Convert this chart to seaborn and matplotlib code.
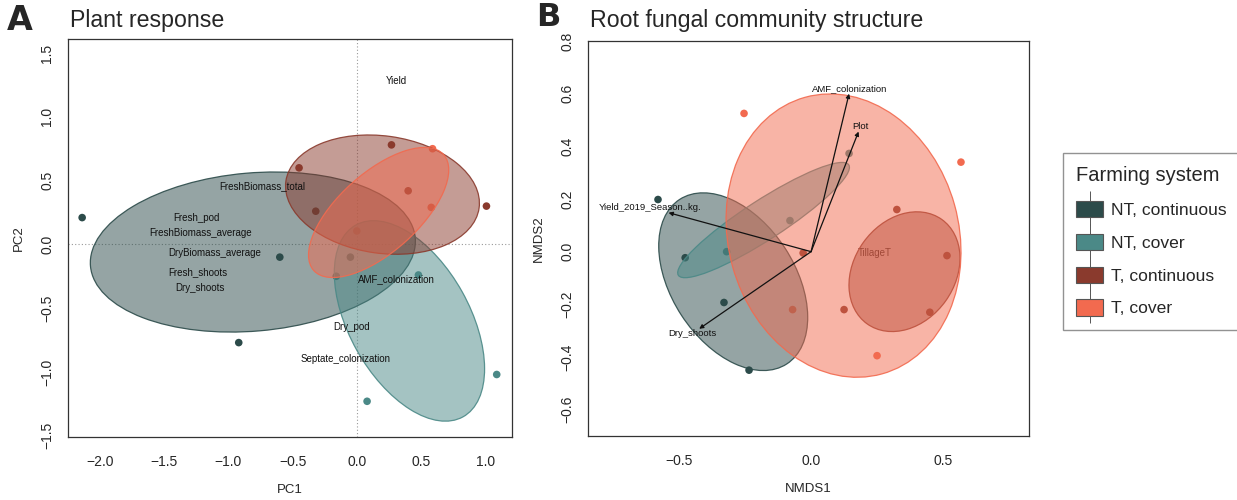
import numpy as np
import pandas as pd
import matplotlib
matplotlib.use("Agg")
import matplotlib.pyplot as plt
from matplotlib.patches import Ellipse, Patch
from matplotlib.lines import Line2D
import seaborn as sns

# ---------------- data ----------------
groups = ["NT, continuous", "NT, cover", "T, continuous", "T, cover"]
colors = ["#2c4b4a", "#4b8987", "#8a3a2d", "#f26a4f"]

# Panel A: PCA scores
pca_pc1 = [-2.14, -0.60, -0.92, -0.05,
           1.09, 0.08, 0.48, -0.16,
           -0.45, 0.27, 0.40, 1.01, -0.32,
           0.59, 0.58, 0.00]
pca_pc2 = [0.21, -0.10, -0.77, -0.10,
           -1.02, -1.23, -0.24, -0.25,
           0.60, 0.78, 0.42, 0.30, 0.26,
           0.75, 0.29, 0.105]
pca_group = (["NT, continuous"] * 4 + ["NT, cover"] * 4 +
             ["T, continuous"] * 5 + ["T, cover"] * 3)

# Panel A ellipses (centre x, centre y, width, height, angle) per group
pca_ell_cx = [-0.81, 0.41, 0.20, 0.17]
pca_ell_cy = [-0.06, -0.60, 0.39, 0.25]
pca_ell_w = [2.54, 1.72, 1.52, 1.36]
pca_ell_h = [1.24, 0.94, 0.92, 0.62]
pca_ell_ang = [5, -61, -8, 42]

# Panel A variable labels
pca_var_names = ["Yield", "FreshBiomass_total", "Fresh_pod", "FreshBiomass_average",
                 "DryBiomass_average", "Fresh_shoots", "Dry_shoots",
                 "AMF_colonization", "Dry_pod", "Septate_colonization"]
pca_var_x = [0.31, -0.74, -1.25, -1.22, -1.11, -1.24, -1.22, 0.31, -0.04, -0.09]
pca_var_y = [1.28, 0.46, 0.21, 0.09, -0.07, -0.22, -0.34, -0.27, -0.65, -0.90]

# Panel B: NMDS scores
nmds1 = [-0.58, -0.33, -0.235, -0.477,
         -0.32, -0.08, 0.144,
         0.325, 0.125, 0.515, 0.45, -0.03,
         -0.254, 0.568, -0.07, 0.25]
nmds2 = [0.198, -0.193, -0.45, -0.023,
         0.0, 0.118, 0.373,
         0.16, -0.22, -0.015, -0.23, -0.005,
         0.525, 0.34, -0.22, -0.395]
nmds_group = (["NT, continuous"] * 4 + ["NT, cover"] * 3 +
              ["T, continuous"] * 5 + ["T, cover"] * 4)

# Panel B ellipses
nmds_ell_cx = [-0.295, -0.18, 0.354, 0.123]
nmds_ell_cy = [-0.114, 0.12, -0.076, 0.061]
nmds_ell_w = [0.745, 0.77, 0.487, 1.09]
nmds_ell_h = [0.468, 0.15, 0.383, 0.873]
nmds_ell_ang = [-57, 33, 54.6, -74.5]

# Panel B environmental vectors
env_names = ["AMF_colonization", "Plot", "Yield_2019_Season..kg.", "Dry_shoots"]
env_x = [0.144, 0.18, -0.54, -0.424]
env_y = [0.60, 0.456, 0.148, -0.293]
env_lab_x = [0.148, 0.186, -0.61, -0.45]
env_lab_y = [0.62, 0.475, 0.167, -0.31]
factor_name = ["TillageT"]
factor_x = [0.24]
factor_y = [-0.004]

# ---------------- style ----------------
sns.set_style("white")
plt.rcParams["font.family"] = ["Liberation Sans", "DejaVu Sans"]

fig = plt.figure(figsize=(12.37, 5.0), dpi=100)
axA = fig.add_axes([0.055, 0.126, 0.359, 0.796])
axB = fig.add_axes([0.4754, 0.128, 0.3565, 0.790])

pal = dict(zip(groups, colors))


def fmt(v):
    return f"{v:.1f}".replace("-", "\u2212")


def style_axes(ax, xt, yt, xl, yl):
    ax.set_xlim(*xl)
    ax.set_ylim(*yl)
    ax.set_xticks(xt)
    ax.set_xticklabels([fmt(v) for v in xt])
    ax.set_yticks(yt)
    ax.set_yticklabels([fmt(v) for v in yt], rotation=90, va="center")
    ax.tick_params(axis="both", direction="out", length=6, width=0.8,
                   color="#333333", labelsize=10)
    ax.tick_params(axis="x", pad=7)
    ax.tick_params(axis="y", pad=4)
    for s in ax.spines.values():
        s.set_color("#333333")
        s.set_linewidth(0.9)


def add_ellipses(ax, cx, cy, w, h, ang):
    for i, g in enumerate(groups):
        c = pal[g]
        e = Ellipse((cx[i], cy[i]), w[i], h[i], angle=ang[i],
                    facecolor=c, alpha=0.5, edgecolor="none", zorder=3)
        ax.add_patch(e)
        e2 = Ellipse((cx[i], cy[i]), w[i], h[i], angle=ang[i],
                     facecolor="none", edgecolor=c, lw=0.9, alpha=0.9, zorder=3)
        ax.add_patch(e2)


# ---------------- Panel A ----------------
dfA = pd.DataFrame({"PC1": pca_pc1, "PC2": pca_pc2, "group": pca_group})
sns.scatterplot(data=dfA, x="PC1", y="PC2", hue="group", palette=pal,
                hue_order=groups, s=30, edgecolor="none", legend=False,
                ax=axA, zorder=2)
axA.axhline(0, color="#999999", lw=0.8, ls=(0, (1, 2)), zorder=1)
axA.axvline(0, color="#999999", lw=0.8, ls=(0, (1, 2)), zorder=1)
add_ellipses(axA, pca_ell_cx, pca_ell_cy, pca_ell_w, pca_ell_h, pca_ell_ang)
for n, x, y in zip(pca_var_names, pca_var_x, pca_var_y):
    axA.text(x, y, n, ha="center", va="center", fontsize=7, color="#111111", zorder=5)
style_axes(axA, [-2.0, -1.5, -1.0, -0.5, 0.0, 0.5, 1.0],
           [-1.5, -1.0, -0.5, 0.0, 0.5, 1.0, 1.5], (-2.25, 1.21), (-1.51, 1.61))
axA.set_xlabel("PC1", fontsize=9.5, labelpad=11)
axA.set_ylabel("PC2", fontsize=9.5, labelpad=11)

# ---------------- Panel B ----------------
dfB = pd.DataFrame({"NMDS1": nmds1, "NMDS2": nmds2, "group": nmds_group})
sns.scatterplot(data=dfB, x="NMDS1", y="NMDS2", hue="group", palette=pal,
                hue_order=groups, s=30, edgecolor="none", legend=False,
                ax=axB, zorder=2)
for n, x, y in zip(factor_name, factor_x, factor_y):
    axB.text(x, y, n, ha="center", va="center", fontsize=7, color="#111111", zorder=2.5)
add_ellipses(axB, nmds_ell_cx, nmds_ell_cy, nmds_ell_w, nmds_ell_h, nmds_ell_ang)
for n, x, y, lx, ly in zip(env_names, env_x, env_y, env_lab_x, env_lab_y):
    axB.annotate("", xy=(x, y), xytext=(0, 0),
                 arrowprops=dict(arrowstyle="-|>", color="#111111", lw=0.9,
                                 mutation_scale=6, shrinkA=0, shrinkB=0),
                 zorder=5)
    axB.text(lx, ly, n, ha="center", va="center", fontsize=6.8, color="#111111", zorder=5)
style_axes(axB, [-0.5, 0.0, 0.5],
           [-0.6, -0.4, -0.2, 0.0, 0.2, 0.4, 0.6, 0.8], (-0.845, 0.826), (-0.70, 0.80))
axB.set_xlabel("NMDS1", fontsize=9.5, labelpad=11)
axB.set_ylabel("NMDS2", fontsize=9.5, labelpad=11)

# ---------------- titles & panel letters ----------------
fig.text(70 / 1237, 1 - 21 / 500, "Plant response", fontsize=16.7, ha="left", va="center")
fig.text(590 / 1237, 1 - 21 / 500, "Root fungal community structure", fontsize=16.7,
         ha="left", va="center")
fig.text(7 / 1237, 1 - 21 / 500, "A", fontsize=24, fontweight="bold",
         family="DejaVu Sans", ha="left", va="center")
fig.text(536 / 1237, 1 - 18 / 500, "B", fontsize=23, fontweight="bold",
         family="DejaVu Sans", ha="left", va="center")

# ---------------- legend ----------------
handles = []
for c in colors:
    handles.append((Line2D([], [], marker="|", markersize=25, mew=0.7,
                           color="#555555", linestyle="none"),
                    Patch(facecolor=c, edgecolor="#555555", lw=0.8)))
leg = fig.legend(handles, groups, title="Farming system",
                 loc="upper left", bbox_to_anchor=(1063 / 1237, 1 - 153 / 500),
                 fontsize=12.6, title_fontsize=14.5, frameon=True, fancybox=False,
                 handlelength=1.55, handleheight=1.05, labelspacing=0.9,
                 handletextpad=0.45, borderpad=0.75, borderaxespad=0)
leg.get_frame().set_edgecolor("#777777")
leg.get_frame().set_linewidth(1.0)
leg._legend_box.align = "left"

fig.savefig("out.png", dpi=100)
